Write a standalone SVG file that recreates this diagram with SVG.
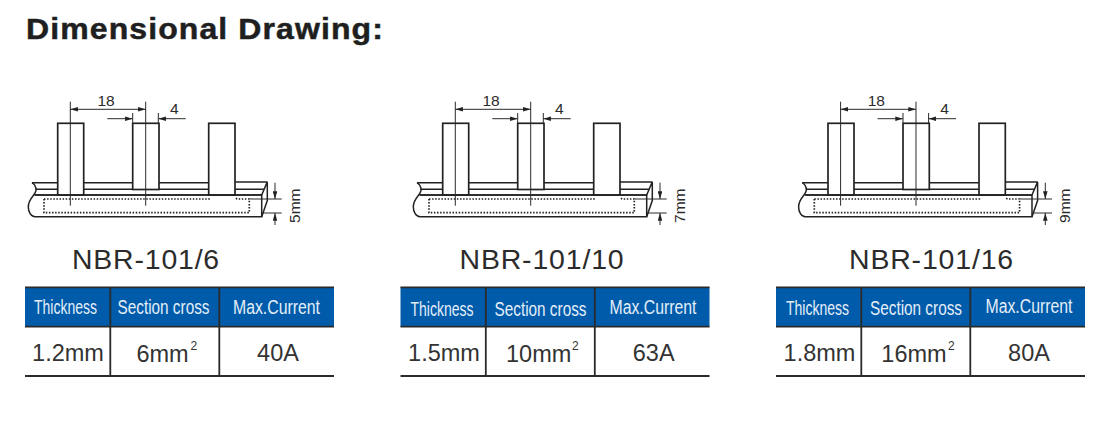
<svg xmlns="http://www.w3.org/2000/svg" xmlns:xlink="http://www.w3.org/1999/xlink" width="1110" height="422" viewBox="0 0 1110 422">
<style>
text{font-family:"Liberation Sans",Arial,sans-serif;fill:#2b2b2b}
.title{font-weight:bold;font-size:29px;fill:#1f1f1f;stroke:#1f1f1f;stroke-width:.5;letter-spacing:1px}
.model{font-size:27px;text-anchor:middle;letter-spacing:.8px}
.dim{font-size:15.5px;text-anchor:middle}
.head{font-size:20px;text-anchor:middle;fill:#e4eef8}
.val{font-size:23.5px;text-anchor:middle;fill:#333}
.sup{font-size:12px;fill:#333}
.pin{fill:#fff;stroke:#222;stroke-width:1.7}
.ln{fill:none;stroke:#222;stroke-width:1.5}
.thin{fill:none;stroke:#2a2a2a;stroke-width:1}
.dot{fill:none;stroke:#222;stroke-width:1.7;stroke-dasharray:1.5 1.6}
.rule{stroke:#2a2a2a;stroke-width:1.8;fill:none}
.blue{fill:#005bab}
</style>
<defs>
<marker id="a" viewBox="0 0 10 6" refX="10" refY="3" markerWidth="8" markerHeight="4.6" orient="auto-start-reverse" markerUnits="userSpaceOnUse"><path d="M0 0L10 3L0 6Z" fill="#222"/></marker>
<g id="bar">
<path class="ln" d="M32 182.700H57.700M36 189.300H57.700M83.700 182.700H208.700M83.700 189.300H208.700M235 181.900H267.300M235 189.300H264"/>
<path class="ln" d="M32 182.700C34 184 36 187 36 190C36 195 28.300 198 28.300 206.700C28.300 212 31 216.700 35 216.700H261.700V195H34.500"/>
<path class="ln" d="M261.700 195L267.300 181.900V200.500L261.700 216.700"/>
<path class="dot" d="M44 199H209V197M44 199V212.700H249.300V199H237L235 197"/>
<rect class="pin" x="57.700" y="123.300" width="26" height="71.700"/>
<rect class="pin" x="132.700" y="123.300" width="26.300" height="66.200"/>
<rect class="pin" x="208.700" y="123.300" width="26.300" height="71.700"/>
<path class="ln" d="M35 195H261.700"/>
<path class="thin" d="M70.300 101.700V205.700M145.700 101.700V205.700M132.700 113V123M158.300 113V123M250 199H281.700M262 213H281.700"/>
<path class="thin" marker-end="url(#a)" marker-start="url(#a)" d="M70.300 109.300H145.700"/>
<path class="thin" marker-end="url(#a)" d="M107.300 118.700H132.700"/>
<path class="thin" marker-end="url(#a)" d="M185.700 118.700H158.300"/>
<path class="thin" marker-end="url(#a)" d="M275 182.700V199"/>
<path class="thin" marker-end="url(#a)" d="M275 225V213"/>
<text class="dim" x="106" y="106">18</text>
<text class="dim" x="174.300" y="114">4</text>
</g>
<g id="grid">
<rect class="blue" x="25" y="287.300" width="309" height="39.400"/>
<path class="rule" d="M25 287.300H334M25 326.700H334M25 376H334M110.300 287.300V376M219.300 287.300V376"/>
</g>
</defs>
<text class="title" x="26" y="38.500" textLength="358" lengthAdjust="spacingAndGlyphs">Dimensional Drawing:</text>
<g id="panel-1">
<use xlink:href="#bar" href="#bar"/>
<text class="dim" transform="translate(300 205.700) rotate(-90)">5mm</text>
<text class="model" x="146" y="269" textLength="148" lengthAdjust="spacingAndGlyphs">NBR-101/6</text>
<use xlink:href="#grid" href="#grid"/>
<text class="head" x="65.500" y="314" textLength="63" lengthAdjust="spacingAndGlyphs">Thickness</text>
<text class="head" x="163.500" y="314" textLength="92" lengthAdjust="spacingAndGlyphs">Section cross</text>
<text class="head" x="276.500" y="314" textLength="87" lengthAdjust="spacingAndGlyphs">Max.Current</text>
<text class="val" x="68" y="360.700">1.2mm</text>
<text class="val" x="162.500" y="361.500">6mm</text><text class="sup" x="190.500" y="349.500">2</text>
<text class="val" x="278" y="361">40A</text>
</g>
<g id="panel-2">
<use xlink:href="#bar" href="#bar" x="385"/>
<text class="dim" transform="translate(685 205.700) rotate(-90)">7mm</text>
<text class="model" x="542" y="269" textLength="165" lengthAdjust="spacingAndGlyphs">NBR-101/10</text>
<use xlink:href="#grid" href="#grid" x="375.500"/>
<text class="head" x="442" y="316" textLength="63" lengthAdjust="spacingAndGlyphs">Thickness</text>
<text class="head" x="540.500" y="316" textLength="92" lengthAdjust="spacingAndGlyphs">Section cross</text>
<text class="head" x="653" y="314" textLength="87" lengthAdjust="spacingAndGlyphs">Max.Current</text>
<text class="val" x="444" y="360.700">1.5mm</text>
<text class="val" x="538.700" y="361.500">10mm</text><text class="sup" x="572" y="349.500">2</text>
<text class="val" x="653.700" y="361">63A</text>
</g>
<g id="panel-3">
<use xlink:href="#bar" href="#bar" x="770.300"/>
<text class="dim" transform="translate(1070.300 205.700) rotate(-90)">9mm</text>
<text class="model" x="931.500" y="269" textLength="165" lengthAdjust="spacingAndGlyphs">NBR-101/16</text>
<use xlink:href="#grid" href="#grid" x="751"/>
<text class="head" x="817.500" y="314.500" textLength="63" lengthAdjust="spacingAndGlyphs">Thickness</text>
<text class="head" x="916" y="315" textLength="92" lengthAdjust="spacingAndGlyphs">Section cross</text>
<text class="head" x="1029" y="313" textLength="87" lengthAdjust="spacingAndGlyphs">Max.Current</text>
<text class="val" x="819.500" y="360.700">1.8mm</text>
<text class="val" x="914" y="361.500">16mm</text><text class="sup" x="948" y="349.500">2</text>
<text class="val" x="1029" y="361">80A</text>
</g>
</svg>
